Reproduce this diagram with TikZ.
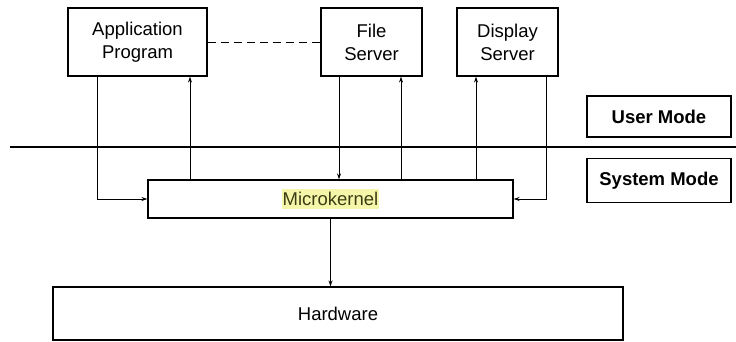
\documentclass[tikz,border=0pt]{standalone}
\usepackage{fontspec}
\setmainfont{Liberation Sans}
\usetikzlibrary{arrows.meta}

\definecolor{hilite}{RGB}{246,246,170}
\definecolor{olivetext}{RGB}{60,60,20}

\begin{document}
\begin{tikzpicture}[
                x=1pt, y=-1pt,
                box/.style={draw=black, line width=1.1pt, inner sep=0pt, align=center,
                    font=\fontsize{18.5}{23}\selectfont},
                modebox/.style={box, minimum width=144pt, font=\fontsize{18.5}{23}\selectfont\bfseries},
                link/.style={line width=0.8pt, -{Stealth[length=6pt, width=4pt]}} ]

            \useasboundingbox (0,0) rectangle (736,341);

            \node[box, minimum width=139pt, minimum height=68pt] (app) at (137.5,42) {Application\\Program};
            \node[box, minimum width=101pt, minimum height=68pt] (file) at (371.5,42) {File\\Server};
            \node[box, minimum width=101pt, minimum height=68pt] (disp) at (507.5,42) {Display\\Server};

            \node[modebox, minimum height=41pt] (user) at (659,116.5) {User Mode};
            \node[modebox, minimum height=44pt] (sys) at (659,180.5) {System Mode};

            \node[box, minimum width=365pt, minimum height=38pt] (mk) at (330.5,199) {};
            \node[fill=hilite, text=olivetext, inner xsep=1pt, inner ysep=3pt,
                font=\fontsize{18.5}{23}\selectfont] (mklabel) at (mk.center) {Microkernel};
            \node[box, minimum width=570pt, minimum height=53pt] (hw) at (338,313.5) {Hardware};

            % user / system boundary
            \coordinate (sepL) at (10,147);
            \coordinate (sepR) at (736,147);
            \draw[line width=2.6pt] (sepL) -- (sepR);

            \draw[line width=1pt, dashed, dash pattern=on 8pt off 5pt] (app.east) -- (file.west);

            \draw[link] ([xshift=-40.5pt]app.south) |- (mk.west);
            \draw[link] ([xshift=52.5pt]app.south |- mk.north) -- ([xshift=52.5pt]app.south);
            \draw[link] ([xshift=-32.5pt]file.south) -- ([xshift=-32.5pt]file.south |- mk.north);
            \draw[link] ([xshift=29.5pt]file.south |- mk.north) -- ([xshift=29.5pt]file.south);
            \draw[link] ([xshift=-31.5pt]disp.south |- mk.north) -- ([xshift=-31.5pt]disp.south);
            \draw[link] ([xshift=39pt]disp.south) |- (mk.east);
            \draw[link] (mk.south) -- (mk.south |- hw.north);

        \end{tikzpicture}
\end{document}
